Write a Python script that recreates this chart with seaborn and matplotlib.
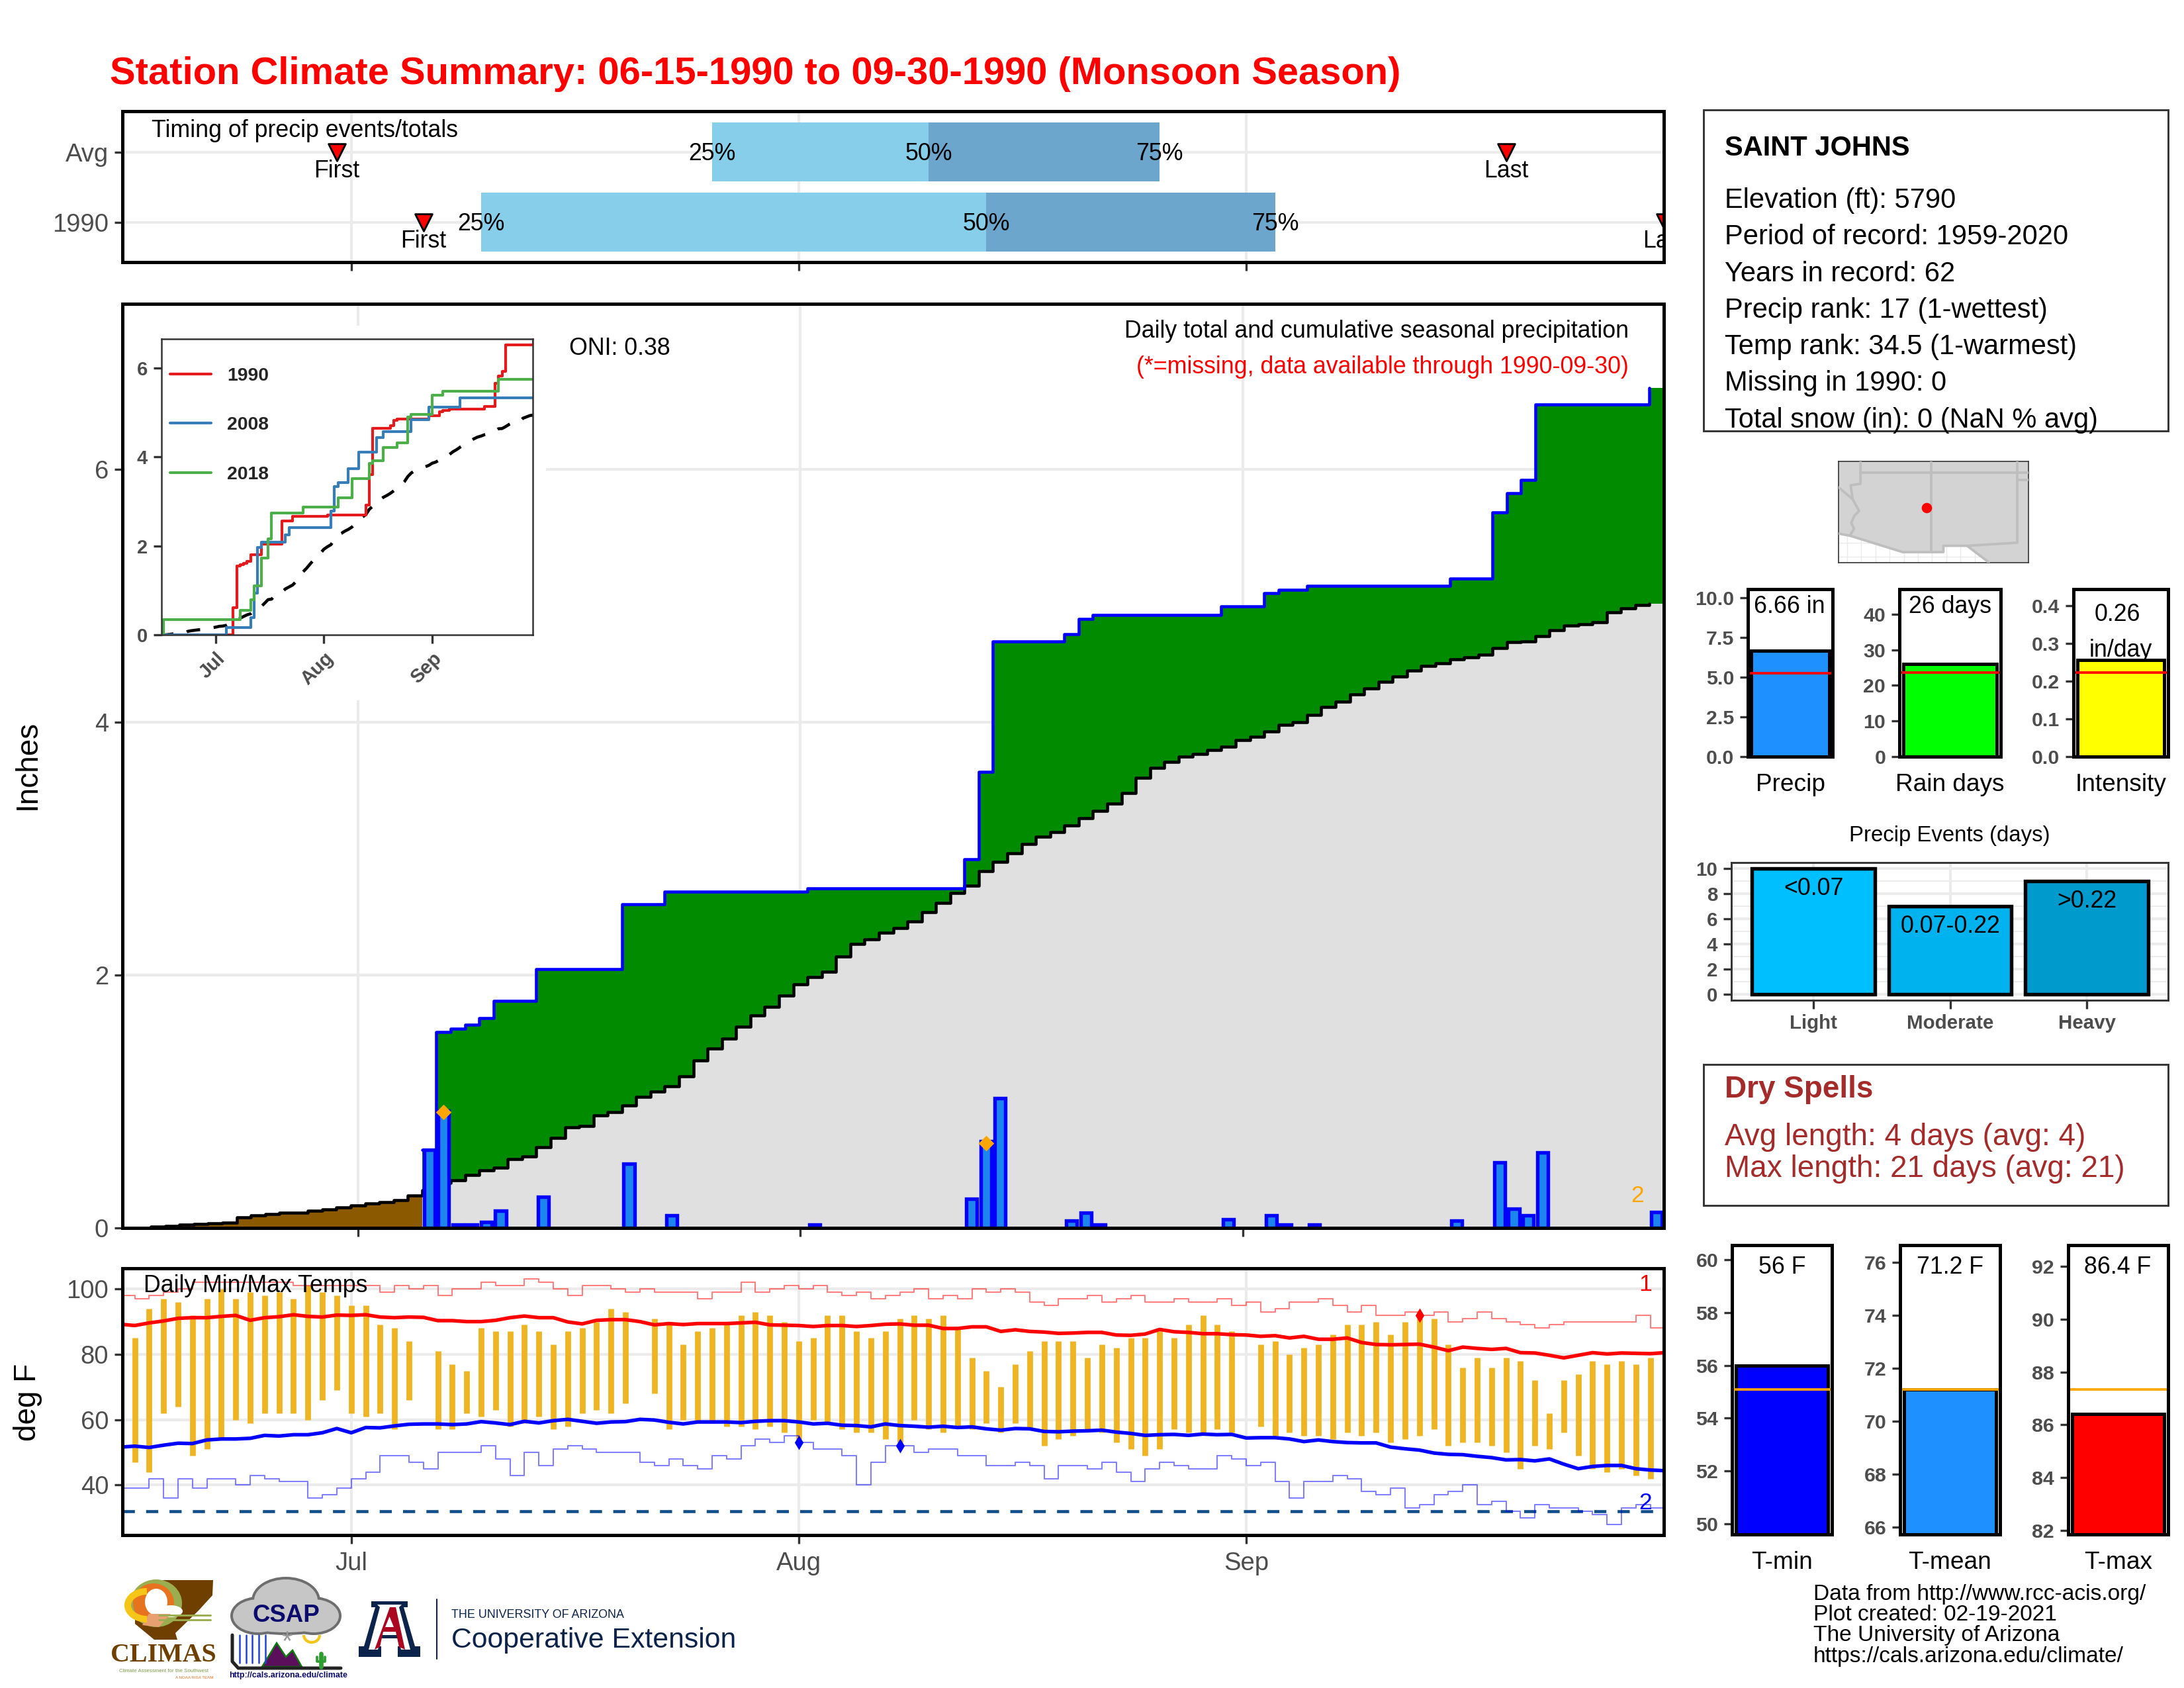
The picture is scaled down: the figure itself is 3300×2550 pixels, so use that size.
import numpy as np
import seaborn as sns
import matplotlib
matplotlib.use('Agg')
import matplotlib.pyplot as plt
from matplotlib.patches import Polygon, Ellipse, Rectangle, Arc

W, H = 3300, 2550
nan = np.nan

# daily precip, days counted from Jun 15 (only wet days listed)
wet_days = [21, 22, 23, 24, 25, 26, 29, 35, 38, 48, 59, 60, 61, 66, 67, 68, 77, 80, 81, 83, 93, 96, 97, 98, 99, 107]
wet_amounts = [0.62, 0.93, 0.03, 0.03, 0.05, 0.14, 0.25, 0.51, 0.10, 0.03, 0.23, 0.69, 1.03, 0.06, 0.12, 0.03,
               0.07, 0.10, 0.03, 0.03, 0.06, 0.52, 0.155, 0.10, 0.60, 0.13]
# average cumulative precip
avg_cum = [0, 0.002, 0.01, 0.02, 0.03, 0.035, 0.04, 0.045, 0.085, 0.10, 0.11, 0.12, 0.125, 0.14, 0.15, 0.165, 0.18,
           0.198, 0.204, 0.22, 0.26, 0.30, 0.36, 0.38, 0.42, 0.457, 0.48, 0.544, 0.565, 0.64, 0.716, 0.797, 0.809,
           0.893, 0.92, 0.971, 1.04, 1.082, 1.124, 1.20, 1.326, 1.42, 1.50, 1.593, 1.684, 1.75, 1.84, 1.93, 1.985,
           2.03, 2.15, 2.246, 2.285, 2.336, 2.375, 2.426, 2.50, 2.57, 2.65, 2.706, 2.826, 2.896, 2.966, 3.036, 3.094,
           3.135, 3.183, 3.24, 3.30, 3.36, 3.44, 3.56, 3.64, 3.69, 3.73, 3.75, 3.78, 3.81, 3.86, 3.885, 3.93, 3.98,
           4.0, 4.06, 4.12, 4.165, 4.22, 4.27, 4.32, 4.365, 4.41, 4.447, 4.47, 4.50, 4.517, 4.535, 4.587, 4.634,
           4.638, 4.68, 4.73, 4.767, 4.774, 4.79, 4.87, 4.90, 4.93, 4.94]
# days with the orange markers
marked_days = [22, 60]
marked_amounts = [0.92, 0.67]

# other years for the inset, change points only
days_2008 = [0, 19, 26, 27, 28, 29, 36, 37, 49, 50, 51, 54, 57, 62, 64, 72, 77, 86, 107]
cum_2008 = [0, 0.17, 0.39, 0.94, 1.975, 2.09, 2.25, 2.41, 2.78, 3.34, 3.42, 3.74, 4.11, 4.44, 4.57, 4.84, 5.12, 5.33, 5.33]
days_2018 = [0, 1, 23, 26, 27, 29, 31, 32, 41, 51, 55, 60, 61, 64, 68, 71, 72, 78, 81, 97, 107]
cum_2018 = [0, 0.35, 0.55, 0.80, 1.11, 1.725, 2.16, 2.74, 2.88, 3.08, 3.52, 3.86, 3.92, 4.21, 4.31, 4.90, 4.96, 5.39,
            5.47, 5.74, 5.74]

# temps
record_high = [98, 97, 98, 99, 100, 102, 102, 102, 102, 102, 102, 102, 101, 101, 101, 101, 101, 101, 99, 101, 100, 101,
               98, 100, 100, 102, 101, 101, 103, 102, 100, 98, 101, 101, 100, 99, 100, 99, 99, 99, 97, 99, 99, 102, 99,
               100, 101, 100, 101, 99, 98, 99, 97, 98, 99, 100, 97, 98, 97, 100, 99, 100, 99, 96, 95, 97, 97, 98, 96,
               97, 98, 96, 96, 97, 96, 96, 97, 95, 96, 93, 94, 96, 96, 97, 95, 93, 95, 92, 92, 93, 92, 93, 90, 91, 93,
               91, 90, 89, 88, 89, 90, 90, 90, 90, 90, 92, 88, 88]
record_low = [39, 39, 42, 36, 42, 39, 42, 42, 40, 43, 42, 41, 41, 36, 37, 39, 42, 44, 49, 49, 47, 45, 50, 50, 50, 52, 48,
              43, 50, 46, 51, 52, 51, 50, 50, 50, 47, 46, 48, 46, 45, 49, 48, 52, 54, 53, 55, 53, 51, 51, 49, 40, 47,
              52, 52, 50, 51, 51, 49, 49, 46, 46, 47, 46, 42, 46, 46, 45, 47, 44, 41, 45, 47, 46, 45, 45, 49, 48, 46,
              47, 41, 36, 41, 41, 43, 42, 38, 37, 39, 33, 34, 37, 38, 40, 34, 35, 32, 30, 34, 33, 33, 32, 31, 28, 33,
              34, 33, 33]
avg_high = [89.2, 88.8, 89.6, 90.2, 91, 91.2, 91.2, 91.6, 91.9, 90.4, 91.2, 91.5, 92.1, 91.6, 91.4, 92, 91.9, 92.1, 91.4,
            91.2, 91.4, 91.3, 90.3, 90.3, 90, 90, 90.4, 91.2, 91.7, 91.2, 91.2, 89.9, 89.3, 90.4, 90.6, 90.6, 90, 89,
            89.4, 89.1, 89.4, 89.4, 89.4, 89.6, 89.8, 89, 88.9, 88.8, 88.5, 88.8, 88.8, 88.5, 88.8, 89.2, 89.3, 88.9,
            88.9, 87.9, 87.9, 88.4, 88.4, 87, 87.5, 87, 86.8, 86.4, 86.5, 86.7, 86.7, 85.9, 85.8, 86.2, 87.6, 86.9, 86.7,
            86.3, 86.3, 86, 85.9, 85.5, 85.7, 85, 85.5, 84.6, 84.6, 85, 83.6, 83, 82.9, 83, 83.1, 82.2, 81.1, 82.2, 81.8,
            81.5, 81.8, 80.5, 80.4, 79.7, 78.9, 79.7, 80.5, 80.1, 80.4, 80.3, 80.2, 80.5]
avg_low = [51.6, 51.9, 51.5, 52.2, 52.8, 52.7, 53.8, 54.1, 54.1, 54.3, 55.2, 55, 55.4, 55.4, 56, 57.3, 56, 57.6, 57.5,
           58.1, 58.6, 58.7, 58.7, 58.5, 58.7, 59.4, 59, 58.5, 59.5, 59, 59.7, 60.1, 59.5, 58.9, 59.3, 59.4, 60.1, 59.9,
           59.2, 58.7, 59.3, 59.3, 59.3, 59.1, 59.5, 59.7, 59.7, 59.3, 58.7, 58.9, 58.3, 58.2, 57.8, 58.7, 58.2, 58,
           57.7, 58, 57.6, 57.8, 57.2, 56.8, 57.3, 57.2, 56.4, 56.3, 56.5, 56.6, 56.8, 56.2, 55.8, 55.2, 55.4, 55.5,
           55.2, 55.6, 55.4, 55.5, 54.4, 54.5, 54.5, 54.1, 53.3, 53.8, 53.3, 53, 52.9, 52.9, 51.6, 51.1, 50.7, 49.8,
           49.4, 49.3, 48.8, 48.4, 47.7, 47.8, 47.4, 48, 46.4, 45, 45.7, 46, 46, 45, 44.6, 44.4]
# Jun 16 through Sep 29
tmax = [85, 94, 97, 96, 92, 97, 100, 97, 99, 98, 99, 97, 101, 99, 98, 95, 95, 89, 88, 84, nan, 81, 77, 75, 88, 87, 87, 89,
        87, 83, 87, 88, 90, 94, 93, nan, 91, 90, 83, 87, 88, 90, 92, 93, 92, 90, 84, 85, 92, 92, 87, 85, 87, 91, 92, 91,
        92, 88, 79, 75, 70, 77, 81, 84, 84, 84, 79, 83, 82, 85, 85, 87, 85, 89, 92, 89, 87, nan, 83, 84, 80, 82, 83, 86,
        89, 89, 90, 86, 90, 91, 91, 83, 76, 79, 76, 79, 78, 72, 62, 72, 74, 78, 77, 78, 77, 79]
tmin = [47, 44, 62, 64, 49, 51, 54, 60, 59, 62, 62, 62, 60, 66, 69, 62, 61, 62, 57, 66, nan, 57, 57, 62, 61, 63, 58, 59,
        61, 57, 58, 62, 63, 62, 65, nan, 68, 57, 60, 59, 59, 58, 58, 57, 58, 56, 54, 60, 59, 57, 56, 56, 54, 53, 60, 57,
        56, 58, 57, 59, 56, 59, 57, 52, 54, 55, 57, 56, 53, 51, 49, 51, 57, 56, 56, 57, 56, nan, 58, 55, 56, 55, 55, 54,
        56, 55, 56, 53, 54, 55, 57, 52, 53, 53, 52, 50, 45, 52, 51, 56, 49, 45, 44, 45, 43, 42]

# timing panel
timing_labels = ['Avg', '1990']
q25_day = [41, 25]
q50_day = [56, 60]
q75_day = [72, 80]
first_day = [15, 21]
last_day = [96, 107]

# small summary bars
precip_total, precip_avg = 6.66, 5.26
rain_days, rain_days_avg = 26, 23.6
intensity, intensity_avg = 0.256, 0.2228
event_names = ['Light', 'Moderate', 'Heavy']
event_counts = [10, 7, 9]
event_bins = ['<0.07', '0.07-0.22', '>0.22']
tmin_mean, tmin_normal = 56, 55.08
tmean_mean, tmean_normal = 71.2, 71.2
tmax_mean, tmax_normal = 86.4, 87.33

# map outlines, lon/lat
land_lon = [-115.6, -102.2, -102.2, -105.0, -106.53, -108.2, -108.2, -111.07, -114.8, -115.6]
land_lat = [37.8, 37.8, 30.6, 30.6, 31.78, 31.78, 31.33, 31.33, 32.5, 32.65]
az_west_lon = [-114.05, -114.05, -114.75, -114.6, -114.15, -114.5, -114.7, -114.5, -114.8]
az_west_lat = [37.8, 36.2, 36.1, 35.1, 34.27, 33.9, 33.4, 33.0, 32.5]

sns.set_theme(style='white', rc={'axes.edgecolor': 'black'})
plt.rcParams['font.family'] = ['Liberation Sans', 'DejaVu Sans']

GREY_TXT = '#4D4D4D'
GRID = '#EBEBEB'
fig = plt.figure(figsize=(11, 8.5), dpi=300)


def px_axes(left, top, right, bottom, zorder=1):
    return fig.add_axes([left / W, 1 - bottom / H, (right - left) / W, (bottom - top) / H], zorder=zorder)


def style_axes(ax, lw=1.2, tick_size=9.2, bold=False, color='black'):
    for s in ax.spines.values():
        s.set_linewidth(lw)
        s.set_color(color)
        s.set_zorder(6)
    ax.tick_params(length=3, width=0.8, color='#333333', labelcolor=GREY_TXT, labelsize=tick_size, pad=2,
                   bottom=True, left=True)
    for t in ax.get_yticklabels():
        t.set_verticalalignment('center_baseline')
    if bold:
        for t in ax.get_xticklabels() + ax.get_yticklabels():
            t.set_fontweight('bold')


def line(ax, x, y, **kw):
    sns.lineplot(x=x, y=y, ax=ax, estimator=None, errorbar=None, sort=False, **kw)
    ax.set(xlabel='', ylabel='')


# timing panel, date scale
DATE_LIM = (0.15, 106.93)
DATE_TICKS = [16, 47, 78]
ax_t = px_axes(185, 168, 2514, 396)
ypos = [1, 0]
ax_t.barh(ypos, np.subtract(q50_day, q25_day), left=q25_day, height=0.835, color='#87CEEB', lw=0, zorder=2)
ax_t.barh(ypos, np.subtract(q75_day, q50_day), left=q50_day, height=0.835, color='#6CA6CD', lw=0, zorder=2)
sns.scatterplot(x=first_day + last_day, y=ypos + ypos, ax=ax_t, marker='v', s=38, color='red', edgecolor='black',
                linewidth=0.7, zorder=4, legend=False)
ax_t.set(xlabel='', ylabel='')
for y, a, b, c, f, l in zip(ypos, q25_day, q50_day, q75_day, first_day, last_day):
    for d, s in zip((a, b, c), ('25%', '50%', '75%')):
        ax_t.text(d, y - 0.03, s, ha='center', va='center', fontsize=8.6, color='black', zorder=5, clip_on=True)
    ax_t.text(f, y - 0.27, 'First', ha='center', va='center', fontsize=8.6, color='black', clip_on=True)
    ax_t.text(l, y - 0.27, 'Last', ha='center', va='center', fontsize=8.6, color='black', clip_on=True)
ax_t.set_xlim(*DATE_LIM)
ax_t.set_ylim(-0.57, 1.58)
ax_t.set_xticks(DATE_TICKS)
ax_t.set_xticklabels([])
ax_t.set_yticks(ypos)
ax_t.set_yticklabels(timing_labels)
ax_t.grid(True, color=GRID, lw=1.0)
ax_t.set_axisbelow(True)
style_axes(ax_t)

# main panel, day index scale
days = np.arange(len(avg_cum))
daily = np.zeros(len(days))
daily[wet_days] = wet_amounts
obs_cum = np.cumsum(daily)
avg = np.array(avg_cum)
low_edge = np.minimum(obs_cum, avg)
edges = np.r_[days - 0.5, 107.5]


def closed(v):
    return np.r_[v, v[-1]]


ax_m = px_axes(185, 459, 2514, 1855.4)
ax_m.fill_between(edges, 0, closed(low_edge), step='post', color='#E0E0E0', lw=0, zorder=1)
ax_m.fill_between(edges, closed(low_edge), closed(avg), step='post', color='#8B5A00', lw=0, zorder=1.1)
ax_m.fill_between(edges, closed(low_edge), closed(obs_cum), step='post', color='#008B00', lw=0, zorder=1.1)
line(ax_m, days - 0.5, avg, color='black', lw=1.1, drawstyle='steps-post', zorder=2)
wet_part = obs_cum > 0.5
line(ax_m, (days - 0.5)[wet_part], obs_cum[wet_part], color='blue', lw=1.1, drawstyle='steps-post', zorder=2.1)
sns.barplot(x=wet_days, y=wet_amounts, ax=ax_m, native_scale=True, color='#1C86EE', saturation=1, width=0.75,
            edgecolor='blue', linewidth=1.3, zorder=3)
sns.scatterplot(x=marked_days, y=marked_amounts, ax=ax_m, marker='D', s=16, color='orange', linewidth=0, zorder=4,
                legend=False)
ax_m.set(xlabel='', ylabel='')
ax_m.set_xlim(-0.5, 107.5)
ax_m.set_ylim(0, 7.31)
ax_m.set_xticks(DATE_TICKS)
ax_m.set_xticklabels([])
ax_m.set_yticks([0, 2, 4, 6])
ax_m.grid(True, color=GRID, lw=1.0)
ax_m.set_axisbelow(True)
style_axes(ax_m)

# white backing behind the inset hides the main grid
ax_c = px_axes(190, 492, 825, 1058, zorder=2)
ax_c.set_xticks([])
ax_c.set_yticks([])
for s in ax_c.spines.values():
    s.set_visible(False)

# inset
ax_i = px_axes(243.5, 512, 805, 959.5, zorder=3)
line(ax_i, days, avg, color='black', lw=1.1, linestyle=(0, (4.5, 4.5)))
line(ax_i, days, obs_cum, color='#E41A1C', lw=1.0, drawstyle='steps-post', label='1990')
line(ax_i, days_2008, cum_2008, color='#377EB8', lw=1.0, drawstyle='steps-post', label='2008')
line(ax_i, days_2018, cum_2018, color='#4DAF4A', lw=1.0, drawstyle='steps-post', label='2018')
ax_i.set_xlim(0.38, 106.8)
ax_i.set_ylim(0, 6.65)
ax_i.set_yticks([0, 2, 4, 6])
ax_i.set_xticks(DATE_TICKS)
ax_i.set_xticklabels(['Jul', 'Aug', 'Sep'], rotation=45, ha='right', rotation_mode='anchor')
style_axes(ax_i, lw=0.6, tick_size=7, bold=True, color='#333333')
ax_i.legend(loc='upper left', bbox_to_anchor=(0.024, 0.905), frameon=False, borderpad=0, borderaxespad=0,
            handlelength=2.2, handletextpad=0.85, labelspacing=1.72,
            prop={'family': 'Liberation Sans', 'weight': 'bold', 'size': 6.8})

# temperature panel, date scale
ax_d = px_axes(185, 1916, 2514, 2319)
tdays = np.arange(1, len(tmax) + 1)
ax_d.vlines(tdays, tmin, tmax, color='#EEB422', lw=2.1, zorder=2)
ax_d.axhline(32, color='#104E8B', lw=1.1, linestyle=(0, (4, 3.7)), zorder=2.2)
line(ax_d, np.arange(len(record_high)), record_high, color='red', lw=0.5, alpha=0.5, drawstyle='steps-post', zorder=2.3)
line(ax_d, np.arange(len(record_low)), record_low, color='blue', lw=0.5, alpha=0.5, drawstyle='steps-post', zorder=2.3)
line(ax_d, np.arange(len(avg_high)), avg_high, color='red', lw=1.3, zorder=3)
line(ax_d, np.arange(len(avg_low)), avg_low, color='blue', lw=1.3, zorder=3)
sns.scatterplot(x=[47, 54], y=[53, 52], ax=ax_d, marker='d', s=14, color='blue', linewidth=0, zorder=4, legend=False)
sns.scatterplot(x=[90], y=[92], ax=ax_d, marker='d', s=14, color='red', linewidth=0, zorder=4, legend=False)
ax_d.set(xlabel='', ylabel='')
ax_d.set_xlim(*DATE_LIM)
ax_d.set_ylim(24.7, 106.3)
ax_d.set_xticks(DATE_TICKS)
ax_d.set_xticklabels(['Jul', 'Aug', 'Sep'])
ax_d.set_yticks([40, 60, 80, 100])
ax_d.grid(True, color=GRID, lw=1.0)
ax_d.set_axisbelow(True)
style_axes(ax_d)
ax_d.tick_params(axis='x', pad=3)


def summary_bar(box, name, value, ref, fill, ylim, yticks, fmt, ref_color='red'):
    ax = px_axes(*box)
    sns.barplot(x=[name], y=[value], ax=ax, color=fill, saturation=1, width=0.9, edgecolor='black', linewidth=1.2)
    ax.axhline(ref, color=ref_color, lw=0.9, zorder=5)
    ax.set(xlabel='', ylabel='')
    ax.set_xlim(-0.49, 0.49)
    ax.set_ylim(*ylim)
    ax.set_yticks(yticks)
    ax.set_yticklabels([fmt % v for v in yticks])
    style_axes(ax, lw=1.2, tick_size=7.3)
    for t in ax.get_yticklabels():
        t.set_fontweight('bold')
    ax.tick_params(axis='x', length=0, labelsize=8.9, labelcolor='black', pad=6)
    ax.tick_params(axis='y', length=3)
    return ax


summary_bar((2641, 890, 2769, 1143), 'Precip', precip_total, precip_avg, '#1E90FF', (0, 10.52),
            [0, 2.5, 5, 7.5, 10], '%.1f')
summary_bar((2870, 890, 3023, 1143), 'Rain days', rain_days, rain_days_avg, '#00FF00', (0, 47.0),
            [0, 10, 20, 30, 40], '%d')
summary_bar((3133, 890, 3276, 1143), 'Intensity', intensity, intensity_avg, '#FFFF00', (0, 0.444),
            [0, 0.1, 0.2, 0.3, 0.4], '%.1f')

summary_bar((2617, 1881, 2768, 2318), 'T-min', tmin_mean, tmin_normal, '#0000FF', (49.61, 60.54),
            [50, 52, 54, 56, 58, 60], '%d', ref_color='orange')
summary_bar((2871, 1881, 3022, 2318), 'T-mean', tmean_mean, tmean_normal, '#1E90FF', (65.72, 76.65),
            [66, 68, 70, 72, 74, 76], '%d', ref_color='orange')
summary_bar((3125, 1881, 3276, 2318), 'T-max', tmax_mean, tmax_normal, '#FF0000', (81.86, 92.79),
            [82, 84, 86, 88, 90, 92], '%d', ref_color='orange')

# precip events
ax_e = px_axes(2616, 1303, 3276, 1511)
sns.barplot(x=event_names, y=event_counts, hue=event_names, ax=ax_e, palette=['#00BFFF', '#00B2EE', '#009ACD'],
            saturation=1, width=0.9, edgecolor='black', linewidth=1.3, legend=False, zorder=3)
for i, (v, s) in enumerate(zip(event_counts, event_bins)):
    ax_e.text(i, v - 1.6, s, ha='center', va='center', fontsize=8.6, color='black', zorder=5)
ax_e.set(xlabel='', ylabel='')
ax_e.set_xlim(-0.6, 2.595)
ax_e.set_ylim(-0.47, 10.45)
ax_e.set_yticks(range(0, 11, 2))
ax_e.set_yticks(range(1, 10, 2), minor=True)
ax_e.grid(True, which='major', color=GRID, lw=1.0)
ax_e.grid(True, which='minor', axis='y', color=GRID, lw=0.5)
ax_e.set_axisbelow(True)
style_axes(ax_e, lw=0.7, tick_size=7.1, bold=True, color='#333333')
ax_e.tick_params(which='minor', length=0)

# locator map
ax_p = px_axes(2778, 697, 3065, 849.5)
ax_p.set_xlim(-115.6, -102.2)
ax_p.set_ylim(30.6, 37.8)
ax_p.set_xticks(np.arange(-115, -102))
ax_p.set_yticks([31, 32])
ax_p.set_xticklabels([])
ax_p.set_yticklabels([])
ax_p.grid(True, color=GRID, lw=0.35)
ax_p.set_axisbelow(True)
ax_p.tick_params(length=0)
ax_p.fill(land_lon, land_lat, color='#D3D3D3', lw=0, zorder=2)
border = dict(color='#BEBEBE', lw=0.9, zorder=3)
ax_p.plot(land_lon[3:], land_lat[3:], **border)
ax_p.plot(az_west_lon, az_west_lat, **border)
ax_p.plot([-114.05, -102.2], [37, 37], **border)
ax_p.plot([-109.05, -109.05], [37.8, 31.33], **border)
ax_p.plot([-103, -103], [37.8, 32], **border)
ax_p.plot([-106.53, -103], [31.78, 32], **border)
ax_p.plot([-103, -102.2], [36.5, 36.5], **border)
ax_p.plot([-115.6, -114.6], [35.95, 35.1], **border)
ax_p.scatter([-109.37], [34.5], s=14, color='red', lw=0, zorder=4)
for s in ax_p.spines.values():
    s.set_linewidth(0.4)
    s.set_color('#333333')

# overlay in pixel coords for everything placed by hand
ov = fig.add_axes([0, 0, 1, 1], zorder=10)
ov.set_xlim(0, W)
ov.set_ylim(H, 0)
ov.axis('off')


def txt(x, y, s, size=8.6, color='black', ha='left', weight='normal', rotation=0, family=None, va='center'):
    return ov.text(x, y + 4, s, fontsize=size, color=color, ha=ha, va=va, fontweight=weight, rotation=rotation,
                   family=family)


txt(166, 108, 'Station Climate Summary: 06-15-1990 to 09-30-1990 (Monsoon Season)', size=13.9, color='red', weight='bold')
txt(229, 193.6, 'Timing of precip events/totals')
txt(860, 523, 'ONI: 0.38')
txt(2461, 497, 'Daily total and cumulative seasonal precipitation', ha='right')
txt(2461, 550, '(*=missing, data available through 1990-09-30)', color='red', ha='right')
txt(2474, 1803, '2', size=8.5, color='orange', ha='center')
txt(217, 1938, 'Daily Min/Max Temps')
txt(2486, 1937, '1', size=8.5, color='red', ha='center')
txt(2486, 2267, '2', size=8.5, color='blue', ha='center')
txt(42, 1151, 'Inches', size=11, ha='center', rotation=90)
txt(42, 2114, 'deg F', size=11, ha='center', rotation=90)

# station box
ov.add_patch(Rectangle((2573.5, 165.5), 702.5, 485.5, fill=False, ec='#333333', lw=0.7))
txt(2606, 220, 'SAINT JOHNS', size=10, weight='bold')
station_lines = ['Elevation (ft): 5790', 'Period of record: 1959-2020', 'Years in record: 62',
                 'Precip rank: 17 (1-wettest)', 'Temp rank: 34.5 (1-warmest)', 'Missing in 1990: 0',
                 'Total snow (in): 0 (NaN % avg)']
for yy, s in zip([298.7, 354, 409.6, 465, 520.4, 575, 631], station_lines):
    txt(2606, yy, s, size=10)

# labels on the summary bars
txt(2704, 912, '6.66 in', ha='center')
txt(2946, 912, '26 days', ha='center')
txt(3199, 925, '0.26', ha='center')
txt(3204, 978, 'in/day', ha='center')
txt(2946, 1258, 'Precip Events (days)', size=7.9, ha='center')
txt(2693, 1911, '56 F', ha='center')
txt(2946, 1911, '71.2 F', ha='center')
txt(3200, 1911, '86.4 F', ha='center')

# dry spells box
ov.add_patch(Rectangle((2573.5, 1608), 702.5, 212.5, fill=False, ec='#333333', lw=0.7))
txt(2606, 1642.5, 'Dry Spells', size=11, color='#A52A2A', weight='bold')
txt(2606, 1714, 'Avg length: 4 days (avg: 4)', size=11, color='#A52A2A')
txt(2606, 1762, 'Max length: 21 days (avg: 21)', size=11, color='#A52A2A')

# credits
for yy, s in zip([2404, 2435, 2467, 2498], ['Data from http://www.rcc-acis.org/', 'Plot created: 02-19-2021',
                                           'The University of Arizona', 'https://cals.arizona.edu/climate/']):
    txt(2740, yy, s, size=8.05)

# CLIMAS logo
ov.add_patch(Polygon([(246, 2387), (322, 2387), (321, 2410), (300, 2433), (265, 2467), (268, 2477), (233, 2477),
                      (204, 2453), (204, 2417), (220, 2393)], color='#6F3F00', lw=0))
ov.add_patch(Ellipse((236, 2422), 78, 72, color='#9AAE50', lw=0))
ov.add_patch(Ellipse((232, 2422), 62, 60, color='#E8731F', lw=0))
ov.add_patch(Ellipse((236, 2420), 34, 40, color='white', lw=0))
ov.add_patch(Ellipse((258, 2434), 36, 18, color='white', lw=0))
ov.add_patch(Polygon([(225, 2438), (258, 2438), (240, 2458), (215, 2455)], color='#E8A070', lw=0))
ov.add_patch(Arc((222, 2425), 58, 42, theta1=90, theta2=270, color='#F5C518', lw=2.4))
ov.plot([240, 318], [2440, 2440], color='#9AAE50', lw=0.7)
ov.plot([240, 318], [2447, 2447], color='#9AAE50', lw=0.7)
txt(247, 2497, 'CLIMAS', size=9.6, color='#6F3F00', ha='center', weight='bold', family='Liberation Serif')
txt(247, 2520, 'Climate Assessment for the Southwest', size=1.9, color='#7E9A45', ha='center')
txt(294, 2530, 'A NOAA RISA TEAM', size=1.5, color='#E8731F', ha='center')

# CSAP logo
lobes = [(432, 2418, 96, 64), (390, 2441, 76, 50), (474, 2441, 76, 50), (432, 2446, 150, 40)]
for cx, cy, w, h in lobes:
    ov.add_patch(Ellipse((cx, cy), w + 8, h + 8, color='#6E6E6E', lw=0))
for cx, cy, w, h in lobes:
    ov.add_patch(Ellipse((cx, cy), w, h, color='#C6C6C6', lw=0))
txt(432, 2437, 'CSAP', size=8.8, color='#0B0B6E', ha='center', weight='bold')
for xx in [362, 372, 381, 391, 401]:
    ov.plot([xx, xx], [2470, 2512], color='#2040E0', lw=0.6)
ov.plot([351, 351, 360, 515], [2470, 2510, 2520, 2520], color='#222222', lw=1.2)
ov.add_patch(Polygon([(396, 2518), (418, 2482), (432, 2503), (442, 2493), (456, 2518)], fc='#5B0F5B', ec='#0A7A0A', lw=0.6))
ov.plot([485, 485], [2498, 2518], color='#2E9E2E', lw=1.6)
ov.plot([479, 479, 491, 491], [2503, 2510, 2510, 2503], color='#2E9E2E', lw=0.9)
txt(433, 2478, '*', size=10, color='#999999', ha='center')
ov.add_patch(Arc((471, 2470), 24, 22, theta1=0, theta2=180, color='#F5C518', lw=1.0))
txt(436, 2527, 'http://cals.arizona.edu/climate', size=3.0, color='#0B0B6E', ha='center', weight='bold')

# U of A mark
ov.add_patch(Polygon([(561, 2419), (616, 2419), (616, 2428), (610, 2428), (627, 2487), (635, 2487), (635, 2503),
                      (601, 2503), (601, 2487), (605, 2487), (602, 2475), (575, 2475), (572, 2487), (576, 2487),
                      (576, 2503), (542, 2503), (542, 2487), (550, 2487), (567, 2428), (561, 2428)],
                     color='#0C234B', lw=0))
ov.add_patch(Polygon([(570, 2424), (607, 2424), (603, 2428), (620, 2492), (606, 2492), (600, 2470), (577, 2470),
                      (571, 2492), (557, 2492), (574, 2428)], color='white', lw=0))
ov.add_patch(Polygon([(589, 2428), (598, 2428), (612, 2492), (603, 2488), (598, 2465), (579, 2465), (574, 2488),
                      (566, 2492)], color='#AB0520', lw=0))
ov.add_patch(Polygon([(588.5, 2442), (595, 2458), (582, 2458)], color='white', lw=0))
ov.plot([660, 660], [2416, 2506], color='#0C234B', lw=0.5)
txt(682, 2436, 'THE UNIVERSITY OF ARIZONA', size=4.3, color='#0C234B')
txt(682, 2474, 'Cooperative Extension', size=10.25, color='#0C234B', family='Liberation Sans')

fig.savefig('out.png', dpi=300)
